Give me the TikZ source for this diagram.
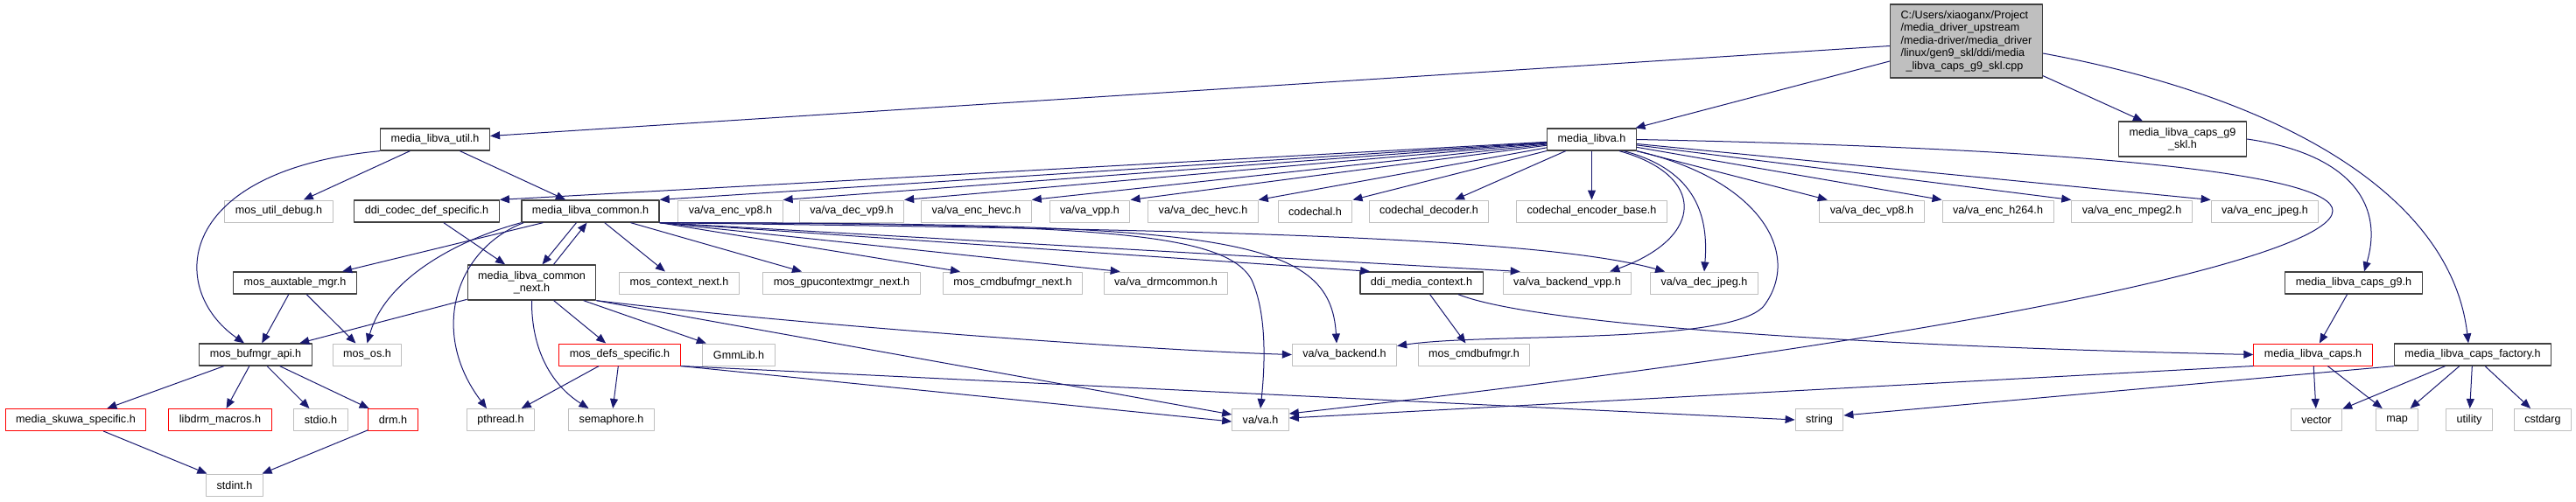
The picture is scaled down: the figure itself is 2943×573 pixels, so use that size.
\documentclass[tikz,border=0pt]{standalone}
\usepackage{fontspec}
\setmainfont{Liberation Sans}
\usepackage{tikz}
\usetikzlibrary{arrows.meta}
\definecolor{edgeblue}{HTML}{191970}
\definecolor{grayline}{HTML}{BFBFBF}
\definecolor{darkline}{HTML}{404040}
\tikzset{
  every picture/.style={line join=round, >=Stealth},
  hfile/.style={draw=darkline, fill=white, line width=1.3pt, minimum height=25pt,
    inner xsep=12pt, inner ysep=2pt, font=\fontsize{12.6}{14.4}\selectfont},
  extfile/.style={hfile, draw=grayline, line width=1pt},
  redfile/.style={hfile, draw=red, line width=1pt},
  twoline/.style={hfile, align=center, minimum height=40pt},
  rootfile/.style={hfile, fill=grayline, align=left, minimum height=84pt},
  incl/.style={draw=edgeblue, line width=1pt, -{Triangle[length=11pt,width=9pt]}},
}

\begin{document}
\begin{tikzpicture}[x=1pt, y=-1pt]
\fill[white] (0,0) rectangle (2943,573);
\useasboundingbox (0,0) rectangle (2943,573);
% source file
\node[rootfile] (root) at (2246.5,47) {C:/Users/xiaoganx/Project\\/media\_driver\_upstream\\/media-driver/media\_driver\\/linux/gen9\_skl/ddi/media\\\hspace*{6pt}\_libva\_caps\_g9\_skl.cpp};
% rank 1
\node[hfile] (util) at (497,159.5) {media\_libva\_util.h};
\node[hfile] (libva) at (1818.5,159.5) {media\_libva.h};
\node[twoline] (capsskl) at (2493.5,159) {media\_libva\_caps\_g9\\\_skl.h};
% rank 2
\node[extfile] (debug) at (318.5,241.5) {mos\_util\_debug.h};
\node[hfile] (codecdef) at (487.5,241.5) {ddi\_codec\_def\_specific.h};
\node[hfile] (common) at (674.5,241.5) {media\_libva\_common.h};
\node[extfile] (encvpe) at (834.5,241.5) {va/va\_enc\_vp8.h};
\node[extfile] (decvpn) at (973,241.5) {va/va\_dec\_vp9.h};
\node[extfile] (enchevc) at (1115.5,241.5) {va/va\_enc\_hevc.h};
\node[extfile] (vpp) at (1245,241.5) {va/va\_vpp.h};
\node[extfile] (dechevc) at (1374.5,241.5) {va/va\_dec\_hevc.h};
\node[extfile] (codechal) at (1502.5,241.5) {codechal.h};
\node[extfile] (codecdec) at (1632.5,241.5) {codechal\_decoder.h};
\node[extfile] (codecenc) at (1818.5,241.5) {codechal\_encoder\_base.h};
\node[extfile] (decvpe) at (2138.5,241.5) {va/va\_dec\_vp8.h};
\node[extfile] (enchtwo) at (2282.5,241.5) {va/va\_enc\_h264.h};
\node[extfile] (encmpeg) at (2435.5,241.5) {va/va\_enc\_mpeg2.h};
\node[extfile] (encjpeg) at (2587.5,241.5) {va/va\_enc\_jpeg.h};
% rank 3
\node[hfile] (auxtbl) at (337,323.5) {mos\_auxtable\_mgr.h};
\node[twoline] (commonnext) at (607.5,323) {media\_libva\_common\\\_next.h};
\node[extfile] (ctxnext) at (776,323.5) {mos\_context\_next.h};
\node[extfile] (gpuctx) at (961.5,323.5) {mos\_gpucontextmgr\_next.h};
\node[extfile] (cmdnext) at (1157,323.5) {mos\_cmdbufmgr\_next.h};
\node[extfile] (drmcommon) at (1332,323.5) {va/va\_drmcommon.h};
\node[hfile] (mediactx) at (1624,323.5) {ddi\_media\_context.h};
\node[extfile] (backendvpp) at (1790.5,323.5) {va/va\_backend\_vpp.h};
\node[extfile] (decjpeg) at (1947,323.5) {va/va\_dec\_jpeg.h};
\node[hfile] (capsgnine) at (2689,323.5) {media\_libva\_caps\_g9.h};
% rank 4
\node[hfile] (bufmgr) at (292,405.5) {mos\_bufmgr\_api.h};
\node[extfile] (mosos) at (419.5,405.5) {mos\_os.h};
\node[redfile] (defs) at (708,405.5) {mos\_defs\_specific.h};
\node[extfile] (gmm) at (844,405.5) {GmmLib.h};
\node[extfile] (backend) at (1536,405.5) {va/va\_backend.h};
\node[extfile] (cmdbuf) at (1684,405.5) {mos\_cmdbufmgr.h};
\node[redfile] (caps) at (2642.5,405.5) {media\_libva\_caps.h};
\node[hfile] (capsfactory) at (2825,405.5) {media\_libva\_caps\_factory.h};
% rank 5
\node[redfile] (skuwa) at (86.5,480) {media\_skuwa\_specific.h};
\node[redfile] (drmmacros) at (251.5,480) {libdrm\_macros.h};
\node[extfile] (stdio) at (366.5,480) {stdio.h};
\node[redfile] (drm) at (449,480) {drm.h};
\node[extfile] (pthread) at (572,480) {pthread.h};
\node[extfile] (semaphore) at (698.5,480) {semaphore.h};
\node[extfile] (vah) at (1440,480) {va/va.h};
\node[extfile] (string) at (2078.5,480) {string};
\node[extfile] (vector) at (2646.5,480) {vector};
\node[extfile] (map) at (2738.5,480) {map};
\node[extfile] (utility) at (2821,480) {utility};
\node[extfile] (cstdarg) at (2905,480) {cstdarg};
% rank 6
\node[extfile] (stdint) at (268,554.5) {stdint.h};

% from the source file
\draw[incl] (root) -- (util);
\draw[incl] (root) -- (libva);
\draw[incl] (root) -- (capsskl);
\draw[incl] ([yshift=-14pt]root.east) .. controls (2600,110) and (2800,220) .. ([xshift=-5pt]capsfactory.north);
% media_libva_util.h
\draw[incl] (util) -- (debug);
\draw[incl] (util) -- (common);
\draw[incl] (util.south west) .. controls (200,195) and (190,330) .. ([xshift=-13pt]bufmgr.north);
% media_libva.h
\draw[incl] (libva) -- (codecdef.north east);
\draw[incl] (libva) -- (common.north east);
\draw[incl] (libva) -- (encvpe.north east);
\draw[incl] (libva) -- (decvpn.north east);
\draw[incl] (libva) -- (enchevc.north east);
\draw[incl] (libva) -- (vpp.north east);
\draw[incl] (libva) -- (dechevc.north east);
\draw[incl] (libva) -- (codechal.north east);
\draw[incl] (libva) -- (codecdec);
\draw[incl] (libva) -- (codecenc);
\draw[incl] (libva) -- (decvpe);
\draw[incl] (libva) -- (enchtwo.north west);
\draw[incl] (libva) -- (encmpeg.north west);
\draw[incl] (libva) -- (encjpeg.north west);
\draw[incl] ([xshift=-20pt]libva.south east) .. controls (1949,200) and (1949,271) .. ([xshift=-25pt]backendvpp.north east);
\draw[incl] ([xshift=-15pt]libva.south east) .. controls (1940,195) and (1952,250) .. (decjpeg.north);
\draw[incl] (libva.south east) .. controls (2010,205) and (2060,290) .. (2015,350) .. controls (1975,395) and (1700,380) .. ([yshift=-3pt]backend.north east);
\draw[incl] (libva.east) .. controls (2400,170) and (2665,200) .. (2665,241) .. controls (2665,290) and (2300,380) .. ([yshift=7pt]vah.east);
% media_libva_common.h
\draw[incl] (common) -- (auxtbl);
\draw[incl] (common.south west) .. controls (520,275) and (440,320) .. (mosos.north);
\draw[incl] ([xshift=3pt]common.south west) .. controls (520,285) and (490,380) .. ([xshift=-16pt]pthread.north);
\draw[incl] ([xshift=-16pt]common.south) -- ([xshift=12pt]commonnext.north);
\draw[incl] (common) -- (ctxnext);
\draw[incl] (common) -- (gpuctx);
\draw[incl] (common.south east) -- ([xshift=20pt]cmdnext.north west);
\draw[incl] (common.south east) -- ([xshift=19pt]drmcommon.north west);
\draw[incl] (common.south east) -- ([xshift=12pt]mediactx.north west);
\draw[incl] (common.south east) -- ([xshift=20pt]backendvpp.north west);
\draw[incl] (common.south east) .. controls (1300,262) and (1750,268) .. ([xshift=17pt]decjpeg.north west);
\draw[incl] (common.south east) .. controls (1400,255) and (1520,270) .. ([xshift=-9pt]backend.north);
\draw[incl] (common.south east) .. controls (1250,256) and (1400,265) .. (1430,320) .. controls (1448,360) and (1445,420) .. (vah.north);
% ddi_codec_def_specific.h
\draw[incl] (codecdef) -- (commonnext);
% media_libva_common_next.h
\draw[incl] ([xshift=25pt]commonnext.north) -- ([xshift=-4pt]common.south);
\draw[incl] (commonnext) -- (bufmgr);
\draw[incl] (commonnext.south) .. controls (607,400) and (630,440) .. ([xshift=-26pt]semaphore.north);
\draw[incl] (commonnext) -- (defs);
\draw[incl] (commonnext) -- (gmm);
\draw[incl] (commonnext.south east) .. controls (900,370) and (1300,400) .. (backend.west);
\draw[incl] (commonnext.south east) -- ([yshift=6pt]vah.west);
% mos_auxtable_mgr.h
\draw[incl] (auxtbl) -- (bufmgr);
\draw[incl] (auxtbl) -- (mosos);
% mos_bufmgr_api.h
\draw[incl] (bufmgr) -- (skuwa);
\draw[incl] (bufmgr) -- (drmmacros);
\draw[incl] (bufmgr) -- (stdio);
\draw[incl] (bufmgr) -- (drm);
\draw[incl] (skuwa) -- (stdint);
\draw[incl] (drm) -- (stdint);
% mos_defs_specific.h
\draw[incl] (defs) -- (pthread);
\draw[incl] (defs) -- (semaphore);
\draw[incl] (defs.south east) -- ([yshift=-2pt]vah.west);
\draw[incl] (defs.south east) -- (string.west);
% ddi_media_context.h
\draw[incl] (mediactx) -- (cmdbuf);
\draw[incl] ([xshift=42pt]mediactx.south) .. controls (1750,370) and (2100,395) .. (caps.west);
% caps headers
\draw[incl] (capsskl.east) .. controls (2680,175) and (2725,230) .. ([xshift=12pt]capsgnine.north);
\draw[incl] (capsgnine) -- (caps);
\draw[incl] (caps) -- (vector);
\draw[incl] (caps) -- (map);
\draw[incl] (caps.south west) -- ([yshift=2pt]vah.east);
\draw[incl] (capsfactory) -- (vector);
\draw[incl] (capsfactory) -- (map);
\draw[incl] (capsfactory) -- (utility);
\draw[incl] (capsfactory) -- (cstdarg);
\draw[incl] (capsfactory.south west) -- ([yshift=5pt]string.east);
\end{tikzpicture}
\end{document}
